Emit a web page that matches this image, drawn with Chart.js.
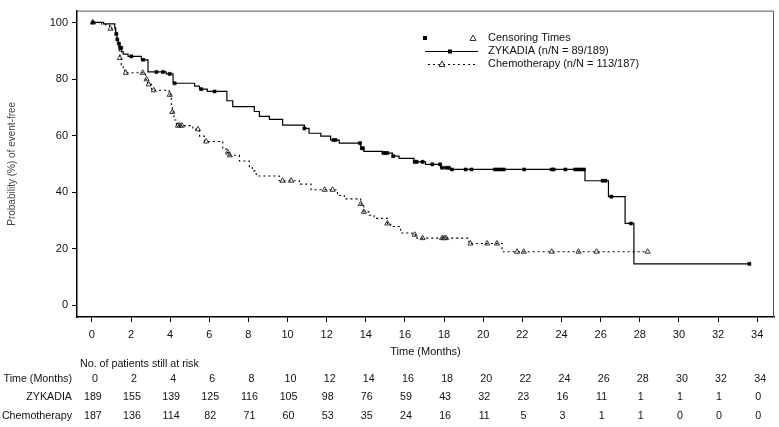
<!DOCTYPE html>
<html><head><meta charset="utf-8">
<script src="https://cdn.jsdelivr.net/npm/chart.js@4"></script>
<style>html,body{margin:0;padding:0;background:#fff}#wrap{width:779px;height:427px}</style>
</head><body><div id="wrap"><canvas id="c" width="779" height="427"></canvas></div>
<script>
const xTicks = [0,2,4,6,8,10,12,14,16,18,20,22,24,26,28,30,32,34];
const yTicks = [0,20,40,60,80,100];

const zykTimes = [0,0.6,1.17,1.22,1.28,1.35,1.43,1.51,1.6,1.85,2.53,2.87,3.8,4.15,5.25,5.5,5.9,6.9,7.2,8.3,8.56,9.07,9.75,10.86,11.1,11.7,12.2,12.64,13.74,13.9,14.85,15.36,15.7,16.46,17.05,17.82,18.3,25.2,26.4,27.25,27.7,33.6];
const zykSurv  = [100,99.5,98,96,94,92.5,91,89.7,88.8,88,86.8,82.5,81.8,78.5,77.5,76.4,75.6,72.3,70.2,68.5,66.8,65.7,63.7,62.5,60.8,59.8,58.4,57.3,55.5,54.4,53.8,52.7,51.9,50.7,49.8,48.6,48.0,44.0,38.4,28.9,14.6,14.6];

const chemoTimes = [0,0.5,0.9,1.2,1.3,1.38,1.43,1.5,1.6,1.68,2.75,2.85,3.05,3.95,4.06,4.11,4.2,4.32,5.16,5.5,5.75,6.69,6.9,7.03,7.54,8.05,8.2,8.4,9.58,10.6,11.2,12.55,12.9,13.74,13.9,14.17,14.42,15.1,15.27,15.78,16.37,16.54,19.27,20.96,28.4];
const chemoSurv  = [100,99.2,97.8,95.5,93,90,87.4,85,83.2,82.2,79.9,78.1,76,74.4,70.5,68.3,65.5,63.5,62.2,59.8,57.9,55.2,54,53,51,49,47.5,45.7,44,42.8,40.8,38.8,37.6,35.8,33,31.8,30.7,28.9,27.8,25.5,24.9,23.7,21.8,18.9,18.9];

const zykCensor = [0.05,1.25,1.3,1.38,1.45,1.5,2.02,2.62,3.3,3.64,3.98,4.23,5.59,6.27,10.86,12.35,12.45,13.7,13.8,13.85,14.9,15.0,15.1,15.4,16.5,16.6,16.9,17.4,17.8,17.9,18.1,18.25,18.4,19.1,19.4,20.6,20.75,20.9,21.05,22.1,23.5,23.6,24.2,24.7,24.85,25.0,25.15,26.1,26.25,26.55,27.55,33.6];
const chemoCensor = [0.05,0.95,1.43,1.73,2.6,2.8,2.9,3.16,3.98,4.11,4.4,4.5,4.6,5.42,5.84,6.95,7.05,9.75,10.18,11.9,12.3,13.74,13.9,15.1,16.5,16.9,17.9,18.0,18.1,19.35,20.2,20.7,21.73,22.07,23.5,24.87,25.8,28.4];

const riskTimes = [0,2,4,6,8,10,12,14,16,18,20,22,24,26,28,30,32,34];
const riskZyk   = [189,155,139,125,116,105,98,76,59,43,32,23,16,11,1,1,1,0];
const riskChemo = [187,136,114,82,71,60,53,35,24,16,11,5,3,1,1,0,0,0];

const zykLabel = 'ZYKADIA (n/N = 89/189)';
const chemoLabel = 'Chemotherapy (n/N = 113/187)';

function survAt(times, surv, t){ let v = surv[0]; for (let i=0;i<times.length;i++){ if (times[i] <= t) v = surv[i]; } return v; }
const pts = (ts, ss) => ts.map((t,i)=>({x:t, y:ss[i]}));
const cens = (cs, ts, ss) => cs.map(t=>({x:t, y:survAt(ts, ss, t)}));

const FONT = '"Liberation Sans", Arial, sans-serif';

const extras = {
  id: 'extras',
  afterDraw(chart){
    const ctx = chart.ctx, ca = chart.chartArea, xs = chart.scales.x;
    ctx.save();
    // frame top/right
    ctx.strokeStyle = '#555'; ctx.lineWidth = 1;
    ctx.beginPath(); ctx.moveTo(ca.left, ca.top+0.5); ctx.lineTo(ca.right-0.5, ca.top+0.5); ctx.lineTo(ca.right-0.5, ca.bottom); ctx.stroke();
    // y title
    ctx.fillStyle = '#444'; ctx.font = '10px ' + FONT; ctx.textAlign='center'; ctx.textBaseline='middle';
    ctx.save(); ctx.translate(12, (ca.top+ca.bottom)/2); ctx.rotate(-Math.PI/2); ctx.fillText('Probability (%) of event-free', 0, 0); ctx.restore();
    // x title
    ctx.fillStyle = '#111'; ctx.font = '11px ' + FONT;
    ctx.fillText('Time (Months)', (ca.left+ca.right)/2, 352);
    // legend
    ctx.textAlign='left';
    ctx.fillText('Censoring Times', 488, 38);
    ctx.fillText(zykLabel, 488, 51);
    ctx.fillText(chemoLabel, 488, 64);
    ctx.fillStyle='#000'; ctx.fillRect(423, 36, 4, 4);
    drawTri(ctx, 473, 38);
    ctx.strokeStyle='#000'; ctx.lineWidth=1;
    ctx.beginPath(); ctx.moveTo(425, 51.5); ctx.lineTo(478, 51.5); ctx.stroke();
    ctx.fillRect(448, 49.5, 4, 4);
    ctx.setLineDash([2,3]);
    ctx.beginPath(); ctx.moveTo(428, 64.5); ctx.lineTo(478, 64.5); ctx.stroke();
    ctx.setLineDash([]);
    drawTri(ctx, 442, 64);
    // risk table
    ctx.fillStyle='#111'; ctx.font='10.7px ' + FONT; ctx.textAlign='left';
    ctx.fillText('No. of patients still at risk', 80, 364);
    ctx.textAlign='right';
    ctx.fillText('Time (Months)', 72, 379);
    ctx.fillText('ZYKADIA', 72, 397);
    ctx.fillText('Chemotherapy', 72, 416);
    ctx.textAlign='center';
    riskTimes.forEach((t,i)=>{
      const px = xs.getPixelForValue(t);
      ctx.fillText(String(t), px+3, 379);
      ctx.fillText(String(riskZyk[i]), px+1, 397);
      ctx.fillText(String(riskChemo[i]), px+1, 416);
    });
    ctx.restore();
  }
};
function drawTri(ctx, x, y){
  ctx.save(); ctx.strokeStyle='#333'; ctx.lineWidth=1; ctx.setLineDash([]);
  ctx.beginPath(); ctx.moveTo(x, y-3); ctx.lineTo(x+3, y+2.5); ctx.lineTo(x-3, y+2.5); ctx.closePath(); ctx.stroke(); ctx.restore();
}

new Chart(document.getElementById('c'), {
  type: 'line',
  data: {
    datasets: [
      { label: zykLabel, data: pts(zykTimes, zykSurv), stepped: true, borderColor:'#000', borderWidth:1.2, pointRadius:0, fill:false },
      { label: chemoLabel, data: pts(chemoTimes, chemoSurv), stepped: true, borderColor:'#000', borderWidth:1.1, borderDash:[2,3], pointRadius:0, fill:false },
      { label: 'ZYKADIA censored', data: cens(zykCensor, zykTimes, zykSurv), showLine:false, pointStyle:'rect', pointRadius:2.2, backgroundColor:'#000', borderColor:'#000', borderWidth:0.5 },
      { label: 'Chemotherapy censored', data: cens(chemoCensor, chemoTimes, chemoSurv), showLine:false, pointStyle:'triangle', pointRadius:3, backgroundColor:'rgba(255,255,255,0)', borderColor:'#333', borderWidth:1 }
    ]
  },
  options: {
    responsive:false, animation:false, devicePixelRatio:1,
    layout:{ padding:{ top:5, right:4, left:0, bottom:0 } },
    plugins:{ legend:{display:false}, tooltip:{enabled:false} },
    scales:{
      x:{ type:'linear', min:-0.76, max:34.86,
          afterBuildTicks:s=>{ s.ticks = xTicks.map(v=>({value:v})); },
          afterFit:s=>{ s.height = 110; },
          grid:{ display:true, drawOnChartArea:false, drawTicks:true, tickLength:5, color:'#000', lineWidth:1 },
          border:{ display:true, color:'#000', width:1.5 },
          ticks:{ font:{ family:FONT, size:11 }, color:'#111', padding:6, maxRotation:0, autoSkip:false }
      },
      y:{ type:'linear', min:-4.2, max:104.2,
          afterBuildTicks:s=>{ s.ticks = yTicks.map(v=>({value:v})); },
          afterFit:s=>{ s.width = 77; },
          grid:{ display:true, drawOnChartArea:false, drawTicks:true, tickLength:5, color:'#000', lineWidth:1 },
          border:{ display:true, color:'#000', width:1.5 },
          ticks:{ font:{ family:FONT, size:11 }, color:'#111', padding:4 }
      }
    }
  },
  plugins:[extras]
});
</script>
</body></html>
